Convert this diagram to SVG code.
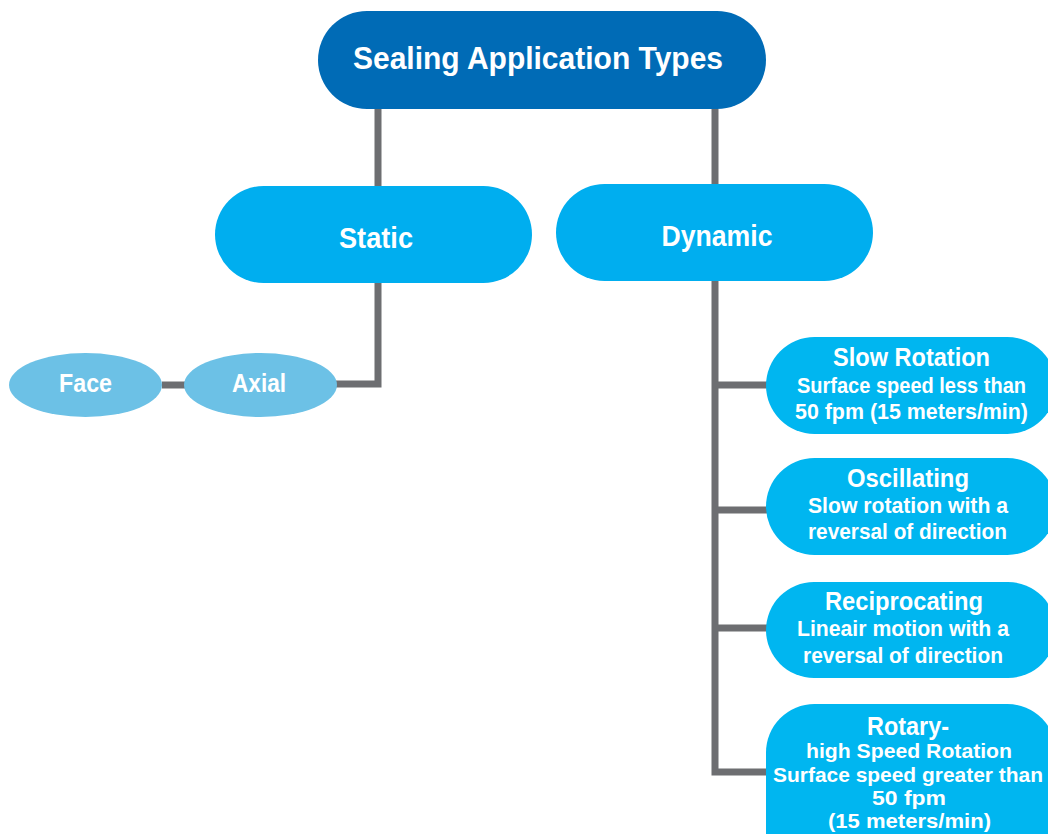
<svg xmlns="http://www.w3.org/2000/svg" width="1048" height="834" viewBox="0 0 1048 834">
<style>
.t{font-family:"Liberation Sans",Arial,sans-serif;font-weight:bold;fill:#fff;text-anchor:middle}
.c{stroke:#6d6e71;stroke-width:7;fill:none}
.b{fill:#00aeef}
.d{fill:#00b6f0}
.l{fill:#6cc1e6}
</style>
<rect width="1048" height="834" fill="#fff"/>
<g id="connectors">
<path class="c" d="M378 109V384H336"/>
<path class="c" d="M162 385H186"/>
<path class="c" d="M715 109V184"/>
<path class="c" d="M715 281V772H768"/>
<path class="c" d="M715 385H768M715 510H768M715 628H768"/>
</g>
<g id="root"><rect x="318" y="11" width="448" height="98" rx="49" fill="#006bb6"/><text class="t" x="538" y="69" font-size="31" textLength="370" lengthAdjust="spacingAndGlyphs">Sealing Application Types</text></g>
<g id="static"><rect class="b" x="215" y="186" width="317" height="97" rx="48.5"/><text class="t" x="376" y="248" font-size="29" textLength="74" lengthAdjust="spacingAndGlyphs">Static</text></g>
<g id="dynamic"><rect class="b" x="556" y="184" width="317" height="97" rx="48.5"/><text class="t" x="717" y="246" font-size="29" textLength="111" lengthAdjust="spacingAndGlyphs">Dynamic</text></g>
<g id="face"><ellipse class="l" cx="85.5" cy="385" rx="76.5" ry="32"/><text class="t" x="85.5" y="392" font-size="26" textLength="53" lengthAdjust="spacingAndGlyphs">Face</text></g>
<g id="axial"><ellipse class="l" cx="260.5" cy="385" rx="76.5" ry="32"/><text class="t" x="259" y="392" font-size="26" textLength="54" lengthAdjust="spacingAndGlyphs">Axial</text></g>
<g id="slow"><rect class="d" x="766" y="337" width="290" height="97" rx="48.5"/><text class="t" x="911.5" y="366" font-size="25" textLength="157" lengthAdjust="spacingAndGlyphs">Slow Rotation</text><text class="t" x="911.5" y="393" font-size="22" textLength="229" lengthAdjust="spacingAndGlyphs">Surface speed less than</text><text class="t" x="911.5" y="419" font-size="22" textLength="233" lengthAdjust="spacingAndGlyphs">50 fpm (15 meters/min)</text></g>
<g id="osc"><rect class="d" x="766" y="458" width="290" height="97" rx="48.5"/><text class="t" x="908" y="487" font-size="25" textLength="122" lengthAdjust="spacingAndGlyphs">Oscillating</text><text class="t" x="908" y="513" font-size="22" textLength="200" lengthAdjust="spacingAndGlyphs">Slow rotation with a</text><text class="t" x="907.5" y="539" font-size="22" textLength="199" lengthAdjust="spacingAndGlyphs">reversal of direction</text></g>
<g id="recip"><rect class="d" x="766" y="582" width="290" height="96" rx="48"/><text class="t" x="904" y="610" font-size="25" textLength="158" lengthAdjust="spacingAndGlyphs">Reciprocating</text><text class="t" x="903" y="636" font-size="22" textLength="212" lengthAdjust="spacingAndGlyphs">Lineair motion with a</text><text class="t" x="903" y="663" font-size="22" textLength="200" lengthAdjust="spacingAndGlyphs">reversal of direction</text></g>
<g id="rotary"><rect class="d" x="766" y="704" width="290" height="180" rx="48.5"/><text class="t" x="908" y="735" font-size="25" textLength="82" lengthAdjust="spacingAndGlyphs">Rotary-</text><text class="t" x="909" y="758" font-size="21" textLength="206" lengthAdjust="spacingAndGlyphs">high Speed Rotation</text><text class="t" x="908" y="782" font-size="21" textLength="270" lengthAdjust="spacingAndGlyphs">Surface speed greater than</text><text class="t" x="909" y="805" font-size="21" textLength="74" lengthAdjust="spacingAndGlyphs">50 fpm</text><text class="t" x="909.5" y="828" font-size="21" textLength="163" lengthAdjust="spacingAndGlyphs">(15 meters/min)</text></g>
</svg>
